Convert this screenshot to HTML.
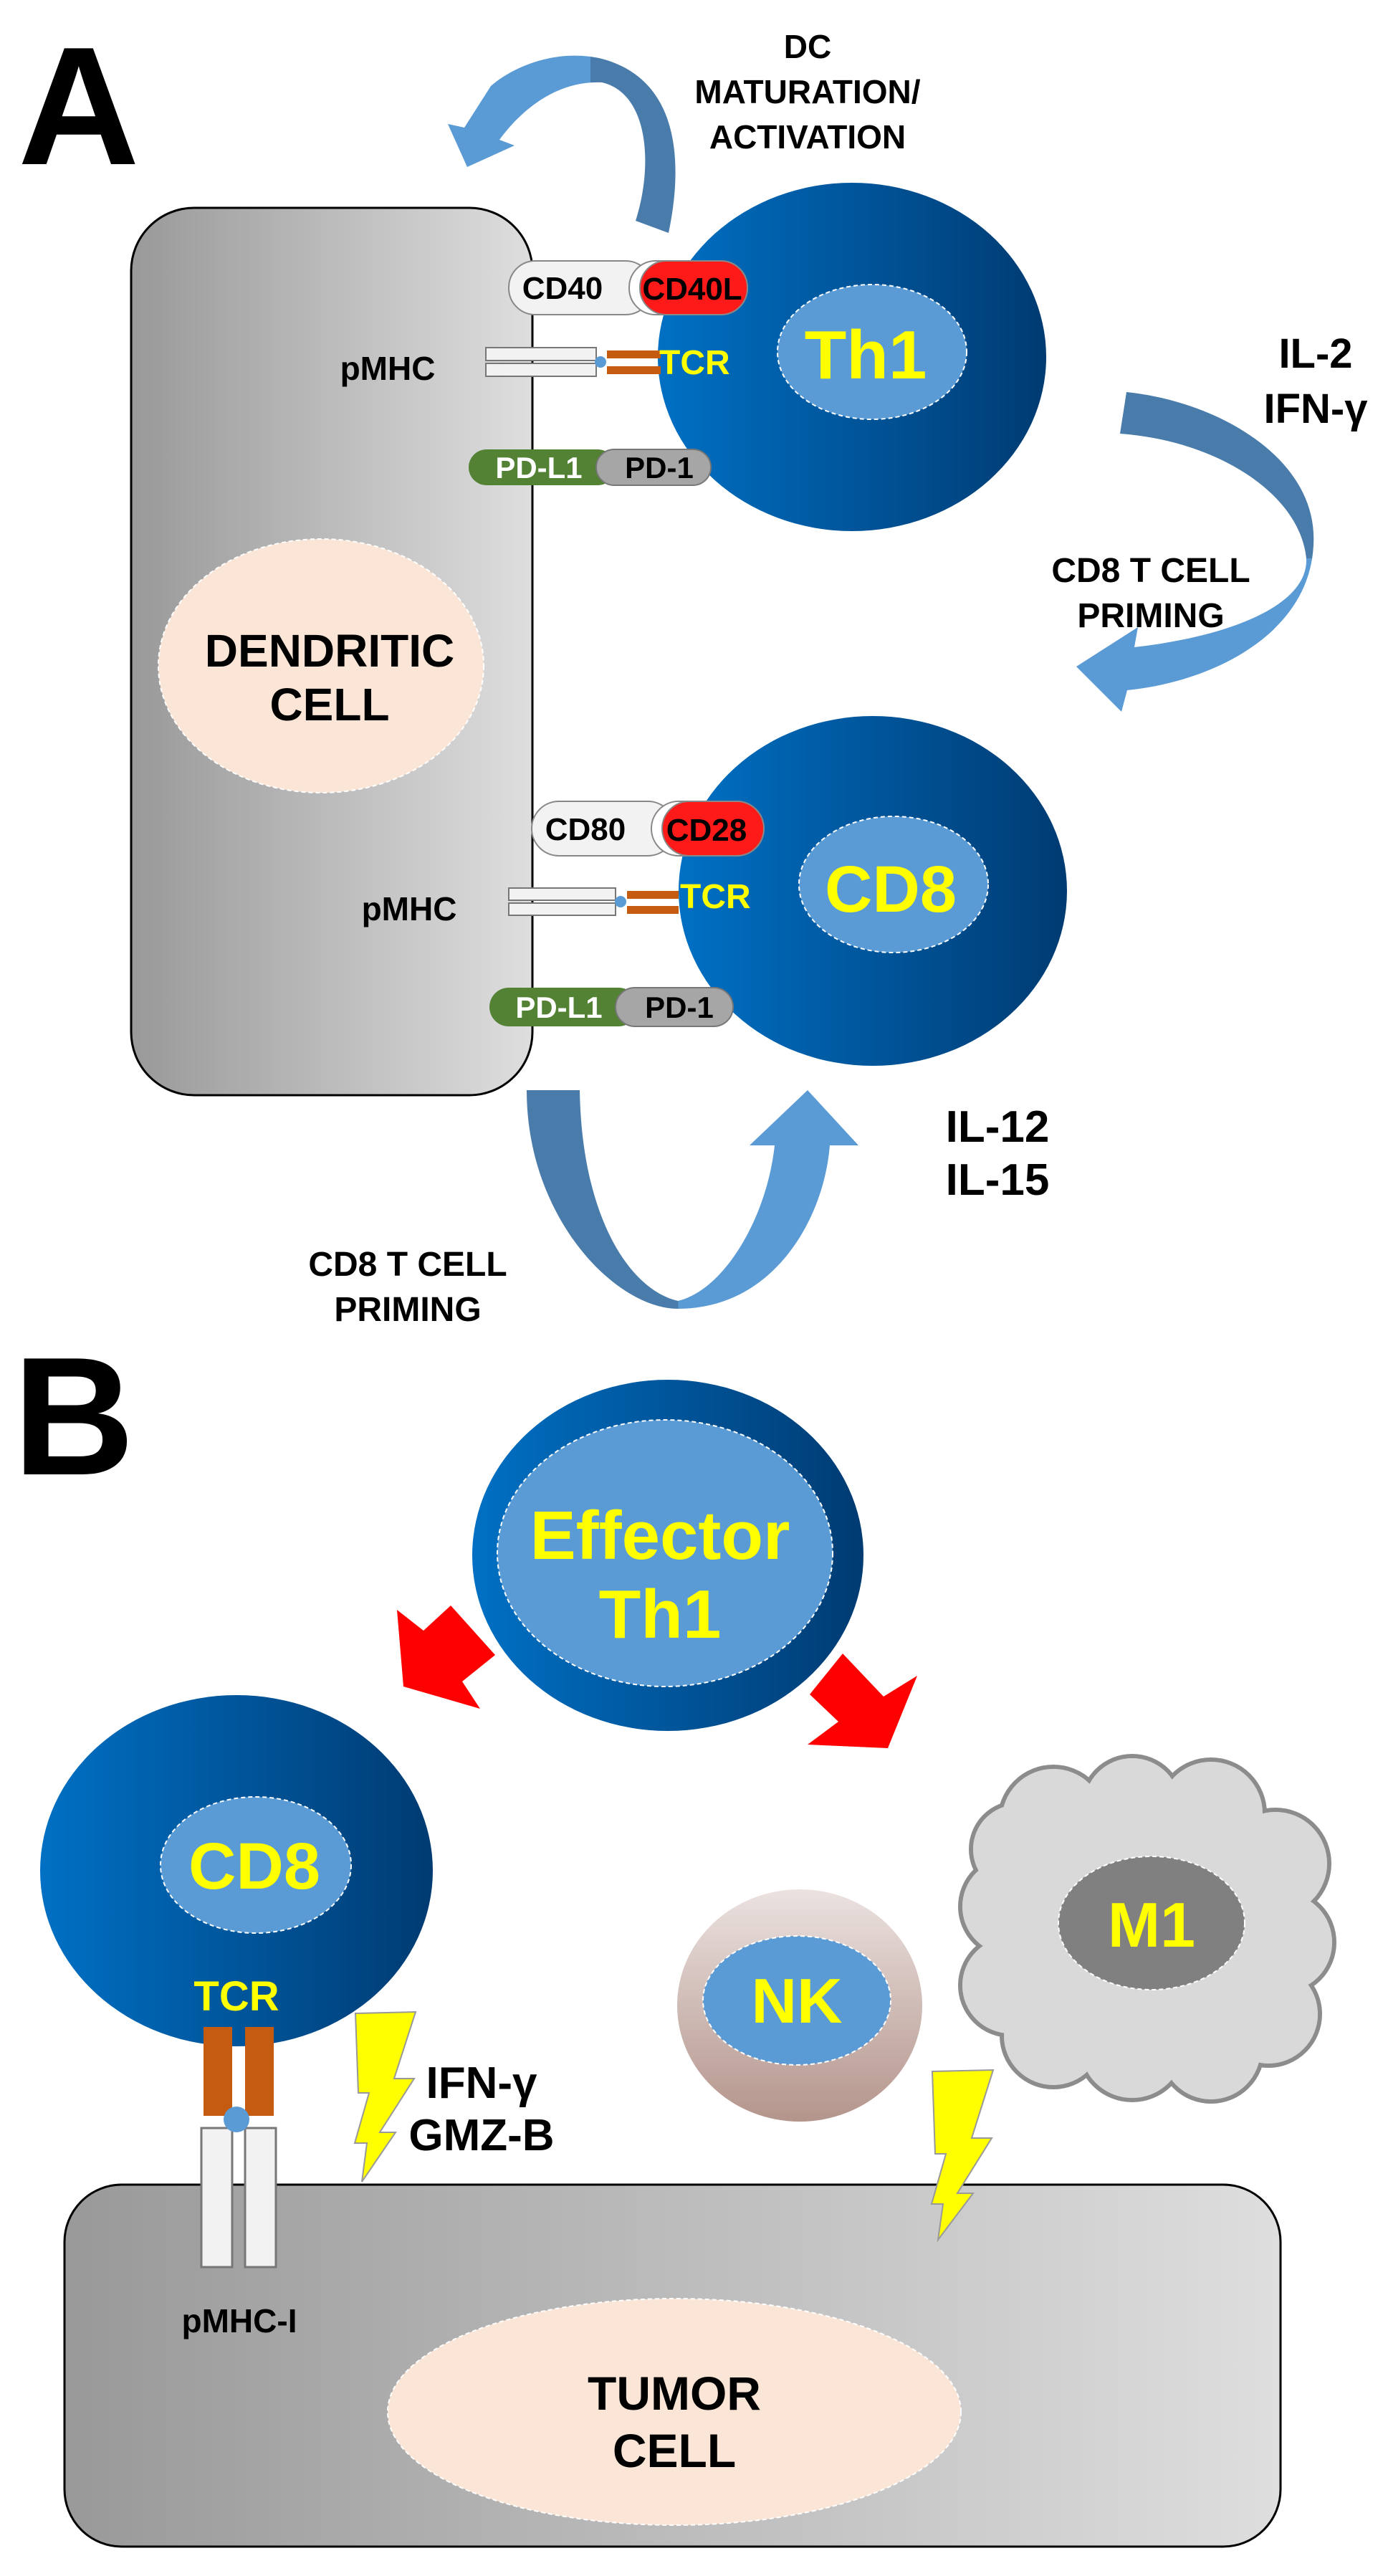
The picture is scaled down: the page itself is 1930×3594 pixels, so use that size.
<!DOCTYPE html>
<html><head><meta charset="utf-8"><style>html,body{margin:0;padding:0;background:#fff}svg{display:block}text{font-family:"Liberation Sans",Arial,sans-serif;font-weight:bold}</style></head><body>
<svg width="1930" height="3594" viewBox="0 0 1930 3594" xmlns="http://www.w3.org/2000/svg">
<defs>
<linearGradient id="gray" x1="0" x2="1" y1="0" y2="0"><stop offset="0" stop-color="#999"/><stop offset="1" stop-color="#dedede"/></linearGradient>
<linearGradient id="blue" x1="0" x2="1" y1="0" y2="0"><stop offset="0" stop-color="#0070c4"/><stop offset="1" stop-color="#003b72"/></linearGradient>
<linearGradient id="nk" x1="0" x2="0" y1="0" y2="1"><stop offset="0" stop-color="#ebe2e0"/><stop offset="1" stop-color="#b4958c"/></linearGradient>
<linearGradient id="arrA" gradientUnits="userSpaceOnUse" x1="620" x2="960" y1="0" y2="0"><stop offset="0.6" stop-color="#5b9bd5"/><stop offset="0.6" stop-color="#4a7cab"/></linearGradient>
<linearGradient id="arrB" gradientUnits="userSpaceOnUse" x1="0" x2="0" y1="540" y2="1000"><stop offset="0.52" stop-color="#4a7cab"/><stop offset="0.52" stop-color="#5b9bd5"/></linearGradient>
<linearGradient id="arrC" gradientUnits="userSpaceOnUse" x1="735" x2="1200" y1="0" y2="0"><stop offset="0.455" stop-color="#4a7cab"/><stop offset="0.455" stop-color="#5b9bd5"/></linearGradient>
</defs>

<!-- Panel A -->
<text x="25" y="229" font-size="235">A</text>

<path d="M887,308 L933,325 C955,220 945,110 840,82 C780,68 720,90 685,120 L648,178 L625,173 L652,233 L718,203 L697,195 C730,150 780,112 840,115 C905,130 912,230 887,308 Z" fill="url(#arrA)"/>
<text font-size="46" text-anchor="middle"><tspan x="1127" y="81">DC</tspan><tspan x="1127" y="144">MATURATION/</tspan><tspan x="1127" y="207">ACTIVATION</tspan></text>

<rect x="183" y="290" width="560" height="1238" rx="88" fill="url(#gray)" stroke="#000" stroke-width="3"/>
<ellipse cx="448" cy="929" rx="227" ry="177" fill="#fbe5d6" stroke="#fff" stroke-width="2" stroke-dasharray="6,4"/>
<text font-size="64" text-anchor="middle"><tspan x="460" y="930">DENDRITIC</tspan><tspan x="460" y="1005">CELL</tspan></text>

<ellipse cx="1189" cy="498" rx="271" ry="243" fill="url(#blue)"/>
<ellipse cx="1217" cy="491" rx="132" ry="94" fill="#5b9bd5" stroke="#fff" stroke-width="2" stroke-dasharray="6,4"/>
<text x="1208" y="528" font-size="96" text-anchor="middle" fill="#ffff00">Th1</text>

<ellipse cx="1218" cy="1243" rx="271" ry="244" fill="url(#blue)"/>
<ellipse cx="1247" cy="1234" rx="132" ry="95" fill="#5b9bd5" stroke="#fff" stroke-width="2" stroke-dasharray="6,4"/>
<text x="1243" y="1272" font-size="92" text-anchor="middle" fill="#ffff00">CD8</text>

<!-- receptors top -->
<rect x="710" y="364" width="200" height="75" rx="37" fill="#f2f2f2" stroke="#888" stroke-width="2"/>
<rect x="878" y="364" width="165" height="75" rx="37" fill="#fff" stroke="#888" stroke-width="2"/>
<rect x="893" y="364" width="150" height="75" rx="37" fill="#ff1a1a" stroke="#888" stroke-width="2"/>
<text x="785" y="417" font-size="44" text-anchor="middle">CD40</text>
<text x="966" y="418" font-size="44" text-anchor="middle">CD40L</text>
<text x="541" y="530" font-size="46" text-anchor="middle">pMHC</text>
<rect x="678" y="485" width="154" height="18" fill="#f2f2f2" stroke="#777" stroke-width="2"/>
<rect x="678" y="507" width="154" height="18" fill="#f2f2f2" stroke="#777" stroke-width="2"/>
<rect x="847" y="489" width="75" height="11" fill="#c55a11"/>
<rect x="847" y="511" width="75" height="11" fill="#c55a11"/>
<circle cx="838" cy="505" r="8" fill="#5b9bd5"/>
<text x="920" y="522" font-size="48" fill="#ffff00">TCR</text>
<rect x="654" y="627" width="205" height="50" rx="25" fill="#548235"/>
<rect x="832" y="627" width="160" height="50" rx="25" fill="#a6a6a6" stroke="#777" stroke-width="2"/>
<text x="752" y="667" font-size="42" text-anchor="middle" fill="#fff">PD-L1</text>
<text x="920" y="667" font-size="42" text-anchor="middle">PD-1</text>

<!-- receptors bottom -->
<rect x="742" y="1118" width="200" height="76" rx="38" fill="#f2f2f2" stroke="#888" stroke-width="2"/>
<rect x="909" y="1118" width="157" height="76" rx="38" fill="#fff" stroke="#888" stroke-width="2"/>
<rect x="924" y="1118" width="142" height="76" rx="38" fill="#ff1a1a" stroke="#888" stroke-width="2"/>
<text x="817" y="1172" font-size="44" text-anchor="middle">CD80</text>
<text x="986" y="1173" font-size="44" text-anchor="middle">CD28</text>
<text x="571" y="1284" font-size="46" text-anchor="middle">pMHC</text>
<rect x="710" y="1239" width="149" height="17" fill="#f2f2f2" stroke="#777" stroke-width="2"/>
<rect x="710" y="1260" width="149" height="17" fill="#f2f2f2" stroke="#777" stroke-width="2"/>
<rect x="875" y="1243" width="72" height="11" fill="#c55a11"/>
<rect x="875" y="1264" width="72" height="11" fill="#c55a11"/>
<circle cx="866" cy="1258" r="8" fill="#5b9bd5"/>
<text x="949" y="1267" font-size="48" fill="#ffff00">TCR</text>
<rect x="683" y="1378" width="207" height="54" rx="27" fill="#548235"/>
<rect x="859" y="1378" width="164" height="54" rx="27" fill="#a6a6a6" stroke="#777" stroke-width="2"/>
<text x="780" y="1420" font-size="42" text-anchor="middle" fill="#fff">PD-L1</text>
<text x="948" y="1420" font-size="42" text-anchor="middle">PD-1</text>

<!-- right arrow -->
<path d="M1572,547 C1700,560 1840,640 1833,760 C1828,880 1700,950 1573,963 L1565,993 L1502,930 L1588,875 L1583,903 C1700,890 1825,850 1823,780 C1815,690 1700,615 1563,605 Z" fill="url(#arrB)"/>
<text font-size="58" text-anchor="middle"><tspan x="1836" y="513">IL-2</tspan><tspan x="1836" y="590">IFN-γ</tspan></text>
<text font-size="48" text-anchor="middle"><tspan x="1606" y="812">CD8 T CELL</tspan><tspan x="1606" y="875">PRIMING</tspan></text>

<!-- bottom arrow -->
<path d="M735,1521 L809,1521 C812,1700 880,1800 946,1815 C1010,1800 1070,1700 1081,1598 L1046,1598 L1127,1521 L1198,1598 L1158,1598 C1150,1700 1080,1826 946,1826 C860,1826 735,1700 735,1521 Z" fill="url(#arrC)"/>
<text font-size="48" text-anchor="middle"><tspan x="569" y="1780">CD8 T CELL</tspan><tspan x="569" y="1843">PRIMING</tspan></text>
<text font-size="62" text-anchor="middle"><tspan x="1392" y="1593">IL-12</tspan><tspan x="1392" y="1667">IL-15</tspan></text>

<!-- Panel B -->
<text x="18" y="2057" font-size="235">B</text>

<rect x="90" y="3048" width="1697" height="505" rx="80" fill="url(#gray)" stroke="#000" stroke-width="3"/>
<ellipse cx="941" cy="3365" rx="400" ry="158" fill="#fbe5d6" stroke="#fff" stroke-width="2" stroke-dasharray="6,4"/>
<text font-size="66" text-anchor="middle"><tspan x="941" y="3362">TUMOR</tspan><tspan x="941" y="3442">CELL</tspan></text>

<ellipse cx="932" cy="2170" rx="273" ry="245" fill="url(#blue)"/>
<ellipse cx="928" cy="2167" rx="234" ry="186" fill="#5b9bd5" stroke="#fff" stroke-width="2" stroke-dasharray="6,4"/>
<text font-size="96" text-anchor="middle" fill="#ffff00"><tspan x="921" y="2175">Effector</tspan><tspan x="921" y="2285">Th1</tspan></text>

<polygon points="554,2246 591,2275 629,2240 691,2309 645,2346 670,2384 563,2353" fill="#ff0000"/>
<polygon points="1176,2307 1233,2367 1280,2338 1239,2439 1127,2434 1170,2402 1130,2364" fill="#ff0000"/>

<ellipse cx="330" cy="2610" rx="274" ry="245" fill="url(#blue)"/>
<ellipse cx="357" cy="2602" rx="133" ry="95" fill="#5b9bd5" stroke="#fff" stroke-width="2" stroke-dasharray="6,4"/>
<text x="355" y="2635" font-size="92" text-anchor="middle" fill="#ffff00">CD8</text>
<text x="330" y="2805" font-size="58" text-anchor="middle" fill="#ffff00">TCR</text>
<rect x="284" y="2828" width="40" height="124" fill="#c55a11"/>
<rect x="342" y="2828" width="40" height="124" fill="#c55a11"/>
<rect x="281" y="2969" width="43" height="194" fill="#f2f2f2" stroke="#777" stroke-width="3"/>
<rect x="342" y="2969" width="43" height="194" fill="#f2f2f2" stroke="#777" stroke-width="3"/>
<circle cx="330" cy="2957" r="18" fill="#5b9bd5"/>
<text x="334" y="3254" font-size="46" text-anchor="middle">pMHC-I</text>

<polygon points="496,2809 580,2807 550,2900 578,2900 530,2975 552,2975 505,3044 512,2990 495,2990 515,2920 500,2920" fill="#ffff00" stroke="#999" stroke-width="2"/>
<text font-size="62" text-anchor="middle"><tspan x="672" y="2927">IFN-γ</tspan><tspan x="672" y="3000">GMZ-B</tspan></text>

<ellipse cx="1116" cy="2798" rx="171" ry="162" fill="url(#nk)"/>
<ellipse cx="1112" cy="2791" rx="131" ry="90" fill="#5b9bd5" stroke="#fff" stroke-width="2" stroke-dasharray="6,4"/>
<text x="1112" y="2822" font-size="88" text-anchor="middle" fill="#ffff00">NK</text>

<g stroke="#8c8c8c" stroke-width="6" fill="#d9d9d9">
<circle cx="1470" cy="2540" r="75"/><circle cx="1580" cy="2520" r="70"/><circle cx="1690" cy="2530" r="75"/><circle cx="1780" cy="2600" r="75"/>
<circle cx="1790" cy="2710" r="72"/><circle cx="1770" cy="2810" r="72"/><circle cx="1690" cy="2860" r="72"/><circle cx="1580" cy="2855" r="75"/>
<circle cx="1470" cy="2840" r="72"/><circle cx="1410" cy="2770" r="70"/><circle cx="1410" cy="2660" r="70"/><circle cx="1420" cy="2580" r="65"/>
</g>
<g fill="#d9d9d9">
<circle cx="1470" cy="2540" r="72"/><circle cx="1580" cy="2520" r="67"/><circle cx="1690" cy="2530" r="72"/><circle cx="1780" cy="2600" r="72"/>
<circle cx="1790" cy="2710" r="69"/><circle cx="1770" cy="2810" r="69"/><circle cx="1690" cy="2860" r="69"/><circle cx="1580" cy="2855" r="72"/>
<circle cx="1470" cy="2840" r="69"/><circle cx="1410" cy="2770" r="67"/><circle cx="1410" cy="2660" r="67"/><circle cx="1420" cy="2580" r="62"/>
<ellipse cx="1600" cy="2690" rx="220" ry="190"/>
</g>
<ellipse cx="1607" cy="2683" rx="130" ry="93" fill="#808080" stroke="#fff" stroke-width="2" stroke-dasharray="6,4"/>
<text x="1607" y="2716" font-size="88" text-anchor="middle" fill="#ffff00">M1</text>

<polygon points="1301,2890 1386,2888 1356,2983 1384,2983 1336,3060 1358,3060 1309,3125 1316,3075 1300,3075 1320,3005 1305,3005" fill="#ffff00" stroke="#999" stroke-width="2"/>
</svg>
</body></html>
